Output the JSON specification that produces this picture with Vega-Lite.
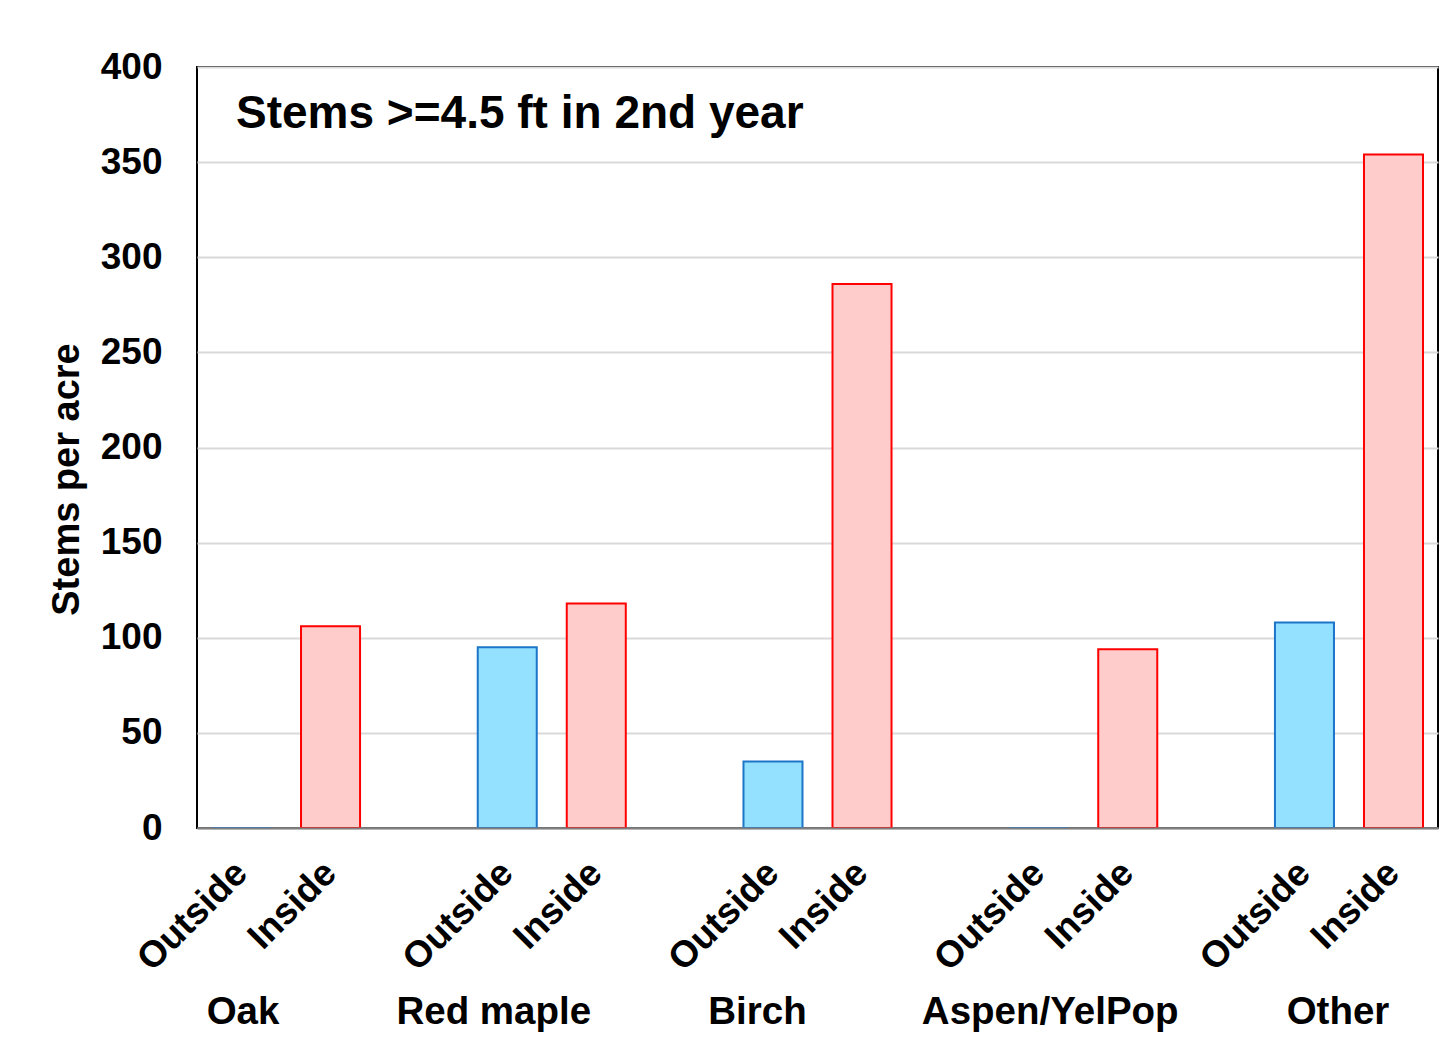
{
  "$schema": "https://vega.github.io/schema/vega-lite/v6.json",
  "autosize": {"type": "none"},
  "padding": {"left": 197, "top": 67, "right": 18, "bottom": 231},
  "width": 1241,
  "height": 761,
  "background": "white",
  "config": {
    "font": "Liberation Sans",
    "view": {"stroke": "black", "strokeWidth": 2}
  },
  "title": {
    "text": "Stems >=4.5 ft in 2nd year",
    "anchor": "start",
    "frame": "group",
    "orient": "top",
    "offset": -90,
    "dx": 39,
    "baseline": "top",
    "font": "Liberation Sans",
    "fontSize": 46,
    "fontWeight": "bold",
    "color": "black"
  },
  "data": {
    "values": [
      {"group": "Oak", "type": "Outside", "stems": 0},
      {"group": "Oak", "type": "Inside", "stems": 106},
      {"group": "Red maple", "type": "Outside", "stems": 95},
      {"group": "Red maple", "type": "Inside", "stems": 118},
      {"group": "Birch", "type": "Outside", "stems": 35},
      {"group": "Birch", "type": "Inside", "stems": 286},
      {"group": "Aspen/YelPop", "type": "Outside", "stems": 0},
      {"group": "Aspen/YelPop", "type": "Inside", "stems": 94},
      {"group": "Other", "type": "Outside", "stems": 108},
      {"group": "Other", "type": "Inside", "stems": 354}
    ]
  },
  "encoding": {
    "x": {
      "field": "group",
      "type": "nominal",
      "sort": ["Oak", "Red maple", "Birch", "Aspen/YelPop", "Other"],
      "scale": {"paddingInner": 0.33, "paddingOuter": 0},
      "axis": {
        "title": null,
        "labelAngle": 0,
        "labelFont": "Liberation Sans",
        "labelFontSize": 38.5,
        "labelFontWeight": "bold",
        "labelColor": "black",
        "labelPadding": 165,
        "labelLimit": 0,
        "labelOverlap": false,
        "labelOffset": {
          "condition": [
            {"test": "datum.value == 'Oak'", "value": -43},
            {"test": "datum.value == 'Red maple'", "value": -58},
            {"test": "datum.value == 'Birch'", "value": -60},
            {"test": "datum.value == 'Aspen/YelPop'", "value": -33}
          ],
          "value": -11
        },
        "ticks": false,
        "domainColor": "#808080",
        "domainWidth": 2,
        "zindex": 1
      }
    },
    "xOffset": {
      "field": "type",
      "type": "nominal",
      "sort": ["Outside", "Inside"],
      "scale": {"paddingInner": 0.337, "paddingOuter": 0.1685}
    }
  },
  "layer": [
    {
      "mark": {"type": "bar", "strokeWidth": 2},
      "encoding": {
        "y": {
          "field": "stems",
          "type": "quantitative",
          "scale": {"domain": [0, 400], "nice": false},
          "axis": {
            "title": "Stems per acre",
            "titleFont": "Liberation Sans",
            "titleFontSize": 38,
            "titleFontWeight": "bold",
            "titleColor": "black",
            "titlePadding": 14,
            "titleY": 412,
            "values": [0, 50, 100, 150, 200, 250, 300, 350, 400],
            "labelFont": "Liberation Sans",
            "labelFontSize": 37,
            "labelFontWeight": "bold",
            "labelColor": "black",
            "labelPadding": 35,
            "ticks": false,
            "domain": false,
            "grid": true,
            "gridColor": "#D9D9D9",
            "gridWidth": 2
          }
        },
        "fill": {
          "field": "type",
          "type": "nominal",
          "scale": {"domain": ["Outside", "Inside"], "range": ["#93E0FF", "#FFCCCC"]},
          "legend": null
        },
        "stroke": {
          "field": "type",
          "type": "nominal",
          "scale": {"domain": ["Outside", "Inside"], "range": ["#1C75C8", "#FF0000"]},
          "legend": null
        }
      }
    },
    {
      "mark": {
        "type": "text",
        "angle": -45,
        "align": "right",
        "baseline": "middle",
        "dx": -28,
        "dy": 28,
        "font": "Liberation Sans",
        "fontSize": 37,
        "fontWeight": "bold",
        "color": "black"
      },
      "encoding": {
        "y": {"datum": 0},
        "text": {"field": "type"}
      }
    }
  ]
}
